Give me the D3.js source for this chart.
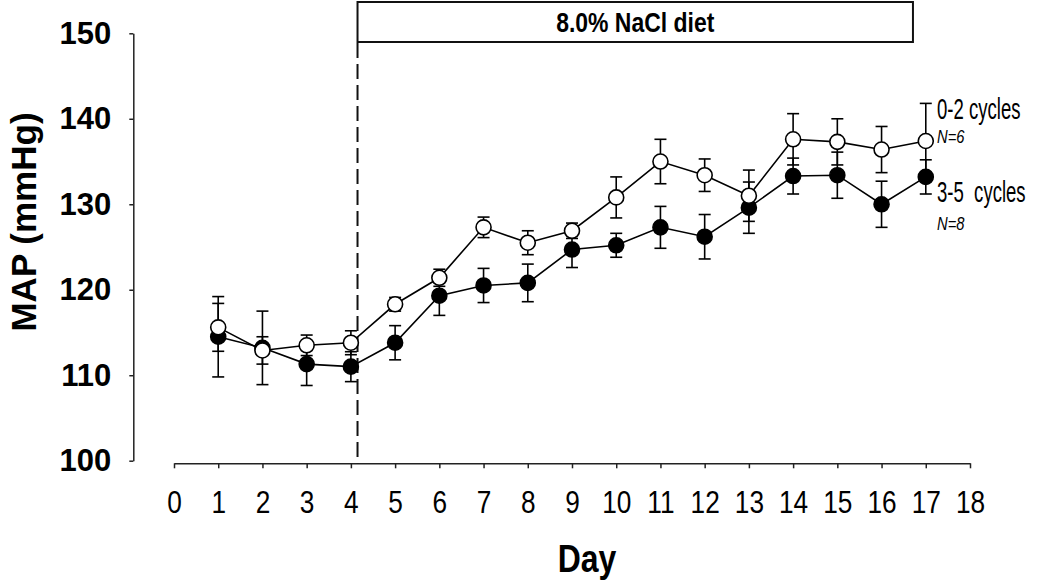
<!DOCTYPE html>
<html>
<head>
<meta charset="utf-8">
<script src="https://cdn.jsdelivr.net/npm/d3@7"></script>
<style>
  html, body { margin: 0; padding: 0; background: #fff; }
  svg { display: block; }
  text { font-family: "Liberation Sans", Arial, sans-serif; }
</style>
</head>
<body>
<svg id="chart" width="1050" height="584"></svg>
<script>
// ---- data ----
const days = [1, 2, 3, 4, 5, 6, 7, 8, 9, 10, 11, 12, 13, 14, 15, 16, 17];
const xTickLabels = ["0","1","2","3","4","5","6","7","8","9","10","11","12","13","14","15","16","17","18"];
const yTickLabels = [100, 110, 120, 130, 140, 150];
const open02 = [115.6, 112.9, 113.5, 113.8, 118.3, 121.4, 127.3, 125.5, 126.9, 130.8, 135.0, 133.4, 131.0, 137.6, 137.3, 136.4, 137.4];
const open02SE = [2.8, 1.6, 1.2, 1.4, 0.8, 1.0, 1.2, 1.4, 0.9, 2.4, 2.6, 1.9, 3.0, 3.0, 2.7, 2.7, 4.4];
const filled35 = [114.5, 113.2, 111.3, 111.0, 113.8, 119.3, 120.5, 120.8, 124.7, 125.2, 127.3, 126.2, 129.6, 133.3, 133.4, 130.0, 133.2];
const filled35SE = [4.7, 4.3, 2.5, 1.75, 2.0, 2.3, 2.0, 2.2, 2.1, 1.4, 2.45, 2.6, 3.0, 2.1, 2.7, 2.7, 2.0];
const seriesNames = ["0-2 cycles", "3-5  cycles"];
const seriesN = ["N=6", "N=8"];
const dietLabel = "8.0% NaCl diet";
const dietStartDay = 4.15;
const dietEndDay = 16.71;

// ---- scales ----
const svg = d3.select("#chart");
const x = d3.scaleLinear().domain([0, 18]).range([174, 970]);
const y = d3.scaleLinear().domain([100, 150]).range([460.7, 33.3]);
const axisY = 463.3;   // x-axis baseline
const yAxisX = 133.3;  // detached y-axis
const NARROW = 0.82;   // horizontal compression to mimic a narrow typeface

function narrowText(g, tx, ty, size, opts = {}) {
  return g.append("text")
    .attr("transform", `translate(${tx},${ty}) scale(${opts.sx || NARROW},1)`)
    .attr("text-anchor", opts.anchor || "start")
    .attr("font-size", size)
    .attr("font-weight", opts.weight || "normal")
    .attr("font-style", opts.style || "normal")
    .attr("fill", "#000")
    .attr("xml:space", "preserve")
    .style("white-space", "pre");
}

// ---- x axis ----
const xAxis = d3.axisBottom(x).tickValues(d3.range(0, 19)).tickSize(5).tickSizeOuter(0)
  .tickFormat((d, i) => xTickLabels[i]).tickPadding(22);
const gx = svg.append("g").attr("transform", `translate(0,${axisY})`).call(xAxis);
gx.select(".domain").attr("stroke", "#222").attr("stroke-width", 1.5);
gx.selectAll(".tick line").attr("stroke", "#222").attr("stroke-width", 1.5);
gx.selectAll(".tick text")
  .attr("font-family", "Liberation Sans, Arial, sans-serif")
  .attr("font-size", 32).attr("fill", "#000")
  .attr("dy", "0.71em")
  .attr("transform", `scale(${NARROW},1)`);

// ---- y axis ----
const yAxis = d3.axisLeft(y).tickValues(yTickLabels).tickSize(4).tickSizeOuter(0).tickPadding(18)
  .tickFormat(d => d);
const gy = svg.append("g").attr("transform", `translate(${yAxisX},0)`).call(yAxis);
gy.select(".domain").attr("stroke", "#222").attr("stroke-width", 1.5);
gy.selectAll(".tick line").attr("stroke", "#222").attr("stroke-width", 1.5);
gy.selectAll(".tick text")
  .attr("font-family", "Liberation Sans, Arial, sans-serif")
  .attr("font-weight", "bold").attr("font-size", 31).attr("fill", "#000");

// ---- axis titles ----
narrowText(svg, 587, 572, 39, { anchor: "middle", weight: "bold" }).text("Day");
svg.append("text")
  .attr("transform", "translate(36,222) rotate(-90)")
  .attr("text-anchor", "middle").attr("font-size", 35).attr("font-weight", "bold").text("MAP (mmHg)");

// ---- diet box and dashed line ----
svg.append("rect")
  .attr("x", x(dietStartDay)).attr("y", 2)
  .attr("width", x(dietEndDay) - x(dietStartDay)).attr("height", 40)
  .attr("fill", "#fff").attr("stroke", "#111").attr("stroke-width", 2);
narrowText(svg, (x(dietStartDay) + x(dietEndDay)) / 2, 32, 28, { anchor: "middle", weight: "bold" }).text(dietLabel);
svg.append("line")
  .attr("x1", x(dietStartDay)).attr("x2", x(dietStartDay))
  .attr("y1", 43).attr("y2", axisY)
  .attr("stroke", "#111").attr("stroke-width", 2).attr("stroke-dasharray", "15,6");

// ---- series ----
const line = d3.line().x((d, i) => x(days[i])).y(d => y(d));
const series = [
  { vals: filled35, se: filled35SE, fill: "#000" },
  { vals: open02, se: open02SE, fill: "#fff" }
];
const capW = 6;
series.forEach(s => {
  svg.append("path").datum(s.vals).attr("d", line)
    .attr("fill", "none").attr("stroke", "#000").attr("stroke-width", 1.6);
  const eb = svg.append("g");
  s.vals.forEach((v, i) => {
    const cx = x(days[i]);
    const top = y(v + s.se[i]), bot = y(v - s.se[i]);
    eb.append("line").attr("x1", cx).attr("x2", cx).attr("y1", top).attr("y2", bot)
      .attr("stroke", "#000").attr("stroke-width", 1.6);
    [top, bot].forEach(yy => eb.append("line").attr("x1", cx - capW).attr("x2", cx + capW)
      .attr("y1", yy).attr("y2", yy).attr("stroke", "#000").attr("stroke-width", 1.6));
  });
});
series.forEach(s => {
  svg.append("g").selectAll("circle").data(s.vals).join("circle")
    .attr("cx", (d, i) => x(days[i])).attr("cy", d => y(d)).attr("r", 7.5)
    .attr("fill", s.fill).attr("stroke", "#000").attr("stroke-width", 1.6);
});

// ---- legend labels ----
const legX = 937;
const legY = [119, 202];
const nY = [143, 230];
seriesNames.forEach((name, i) => {
  narrowText(svg, legX, legY[i], 29, { sx: 0.64 }).text(name);
  narrowText(svg, legX, nY[i], 18, { style: "italic" }).text(seriesN[i]);
});
</script>
</body>
</html>
